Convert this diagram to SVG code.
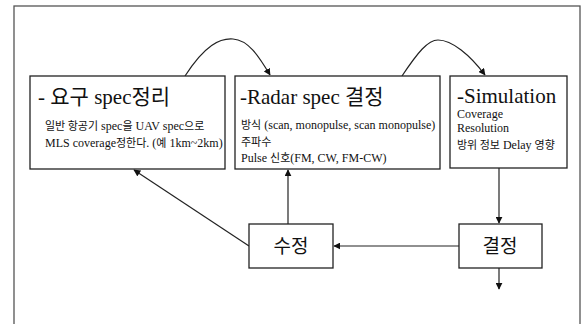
<svg xmlns="http://www.w3.org/2000/svg" width="584" height="324" viewBox="0 0 584 324">
<defs>
<marker id="ah" viewBox="0 0 10 10" refX="9" refY="5" markerWidth="7" markerHeight="7" orient="auto-start-reverse" markerUnits="userSpaceOnUse">
<path d="M0,0 L10,5 L0,10 z" fill="#111"/>
</marker>
<style>
.box{fill:#fff;stroke:#222;stroke-width:1.3}
.frame{fill:none;stroke:#555;stroke-width:1.3}
.ln{fill:none;stroke:#222;stroke-width:1.2;marker-end:url(#ah)}
.t{font-family:"Liberation Serif","Noto Sans CJK KR",serif;fill:#111}
.ko{font-family:"Noto Sans CJK KR",sans-serif}
.la{font-family:"Liberation Serif",serif}
.big{font-size:21px}
.sm{font-size:12px}
.sm .ko{font-size:11px}
.k{font-family:"Noto Sans CJK KR","Liberation Sans",sans-serif;font-size:19px;fill:#111}
</style>
</defs>
<rect class="frame" x="14" y="6" width="566" height="330"/>
<g id="connectors">
<path class="ln" d="M185,76 C205,45 220,38 233,39 C248,40 258,55 270,75"/>
<path class="ln" d="M402,76 C418,52 428,40 438,40 C452,40 470,55 485,75"/>
<path class="ln" d="M499,168 L499,223"/>
<path class="ln" d="M459,246 L334,246"/>
<path class="ln" d="M249,246 L134,170"/>
<path class="ln" d="M288,224 L288,170"/>
<path class="ln" d="M499,268 L499,289"/>
</g>
<g id="req">
<rect class="box" x="30" y="76" width="195" height="93"/>
<text class="t big" x="38" y="104"><tspan class="la">- </tspan><tspan class="ko">요구</tspan><tspan class="la"> spec</tspan><tspan class="ko">정리</tspan></text>
<text class="t sm" x="45" y="130"><tspan class="ko">일반 항공기</tspan><tspan class="la"> spec</tspan><tspan class="ko">을</tspan><tspan class="la"> UAV spec</tspan><tspan class="ko">으로</tspan></text>
<text class="t sm" x="45" y="147"><tspan class="la">MLS coverage</tspan><tspan class="ko">정한다</tspan><tspan class="la">. (</tspan><tspan class="ko">예</tspan><tspan class="la"> 1km~2km)</tspan></text>
</g>
<g id="radar">
<rect class="box" x="235" y="76" width="205" height="93"/>
<text class="t big" x="240" y="104"><tspan class="la">-Radar spec </tspan><tspan class="ko">결정</tspan></text>
<text class="t sm" x="241" y="129"><tspan class="ko">방식</tspan><tspan class="la"> (scan, monopulse, scan monopulse)</tspan></text>
<text class="t sm" x="241" y="146"><tspan class="ko">주파수</tspan></text>
<text class="t sm" x="241" y="162"><tspan class="la">Pulse </tspan><tspan class="ko">신호</tspan><tspan class="la">(FM, CW, FM-CW)</tspan></text>
</g>
<g id="sim">
<rect class="box" x="450" y="76" width="117" height="92"/>
<text class="t big" x="457" y="103">-Simulation</text>
<text class="t sm" x="457" y="118">Coverage</text>
<text class="t sm" x="457" y="132">Resolution</text>
<text class="t sm" x="457" y="149"><tspan class="ko">방위 정보</tspan><tspan class="la"> Delay </tspan><tspan class="ko">영향</tspan></text>
</g>
<g id="modify">
<rect class="box" x="249" y="224" width="84" height="44"/>
<text class="k" x="291" y="253" text-anchor="middle">수정</text>
</g>
<g id="decide">
<rect class="box" x="459" y="224" width="83" height="44"/>
<text class="k" x="500" y="253" text-anchor="middle">결정</text>
</g>
</svg>
